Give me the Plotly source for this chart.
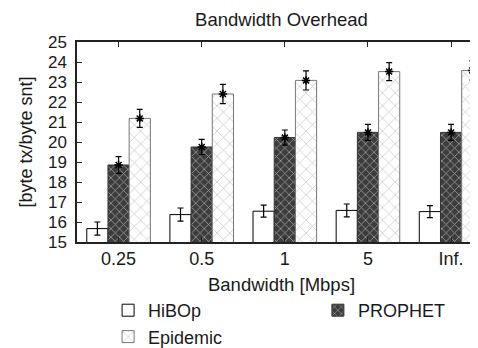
import plotly.graph_objects as go

categories = ["0.25", "0.5", "1", "5", "Inf."]
hibop = [15.67, 16.37, 16.54, 16.58, 16.52]
hibop_err = [0.33, 0.33, 0.30, 0.32, 0.30]
prophet = [18.85, 19.75, 20.22, 20.48, 20.48]
prophet_err = [0.42, 0.38, 0.38, 0.40, 0.40]
epidemic = [21.18, 22.40, 23.08, 23.52, 23.58]
epidemic_err = [0.45, 0.48, 0.48, 0.45, 0.48]

FONT = "Liberation Sans, Arial, Helvetica, sans-serif"
TXT = "#1a1a1a"
xpos = list(range(len(categories)))
bw = 0.255

fig = go.Figure()
fig.add_trace(go.Bar(
    x=xpos, y=hibop, name="HiBOp", width=bw, legend="legend",
    marker=dict(color="white", line=dict(color="black", width=1)),
    error_y=dict(type="data", array=hibop_err, color="black", thickness=1.2, width=3),
))
fig.add_trace(go.Bar(
    x=xpos, y=prophet, name="PROPHET", width=bw, legend="legend2",
    marker=dict(color="#4a4a4a", line=dict(color="#333", width=1),
                pattern=dict(shape="x", fgcolor="white", bgcolor="#3c3c3c",
                             size=6, solidity=0.25)),
    error_y=dict(type="data", array=prophet_err, color="black", thickness=1.2, width=3),
))
fig.add_trace(go.Bar(
    x=xpos, y=epidemic, name="Epidemic", width=bw, legend="legend",
    marker=dict(color="white", line=dict(color="#777", width=1),
                pattern=dict(shape="x", fgcolor="#8a8a8a", bgcolor="white",
                             size=9, solidity=0.15)),
    error_y=dict(type="data", array=epidemic_err, color="black", thickness=1.2, width=3),
))
# mean markers
fig.add_trace(go.Scatter(
    x=[i for i in xpos], y=prophet, mode="markers", showlegend=False,
    marker=dict(symbol="asterisk-open", size=7, color="black", line=dict(color="black", width=1.5)),
    hoverinfo="skip",
))
fig.add_trace(go.Scatter(
    x=[i + bw for i in xpos], y=epidemic, mode="markers", showlegend=False,
    marker=dict(symbol="asterisk-open", size=7, color="black", line=dict(color="black", width=1.5)),
    hoverinfo="skip",
))

legend_common = dict(orientation="v", yanchor="top", xanchor="left", traceorder="normal",
                     font=dict(size=18, family=FONT, color=TXT),
                     bgcolor="rgba(0,0,0,0)", borderwidth=0, tracegroupgap=0)

fig.update_layout(
    width=478, height=348,
    margin=dict(l=69, r=0, t=34, b=114, autoexpand=False),
    paper_bgcolor="white", plot_bgcolor="white",
    barmode="group", bargap=1 - 3 * bw, bargroupgap=0,
    font=dict(family=FONT, size=18, color=TXT),
    title=dict(text="Bandwidth Overhead", x=0.5, xref="paper", xanchor="center",
               y=1 - 12 / 348, yanchor="middle", font=dict(size=18.5, family=FONT, color=TXT)),
    showlegend=True,
    legend=dict(x=0.076, y=-0.25, **legend_common),
    legend2=dict(x=0.589, y=-0.25, **legend_common),
)
fig.update_xaxes(
    range=[-0.5, 4.42], tickmode="array", tickvals=xpos, ticktext=categories,
    showline=True, linecolor="#222", linewidth=1.5, mirror="ticks",
    ticks="inside", ticklen=5, tickcolor="#222", showgrid=False, zeroline=False,
    title=dict(text="Bandwidth [Mbps]", standoff=10, font=dict(size=18.5, family=FONT, color=TXT)),
    tickfont=dict(size=18, family=FONT, color=TXT),
)
fig.update_yaxes(
    range=[15, 25], dtick=1, showline=True, linecolor="#222", linewidth=1.5,
    ticks="inside", ticklen=5, tickcolor="#222", showgrid=False, zeroline=False,
    ticklabelstandoff=5,
    title=dict(text="[byte tx/byte snt]", standoff=11, font=dict(size=18, family=FONT, color=TXT)),
    tickfont=dict(size=17, family=FONT, color=TXT),
)

fig.write_html("out.html")
